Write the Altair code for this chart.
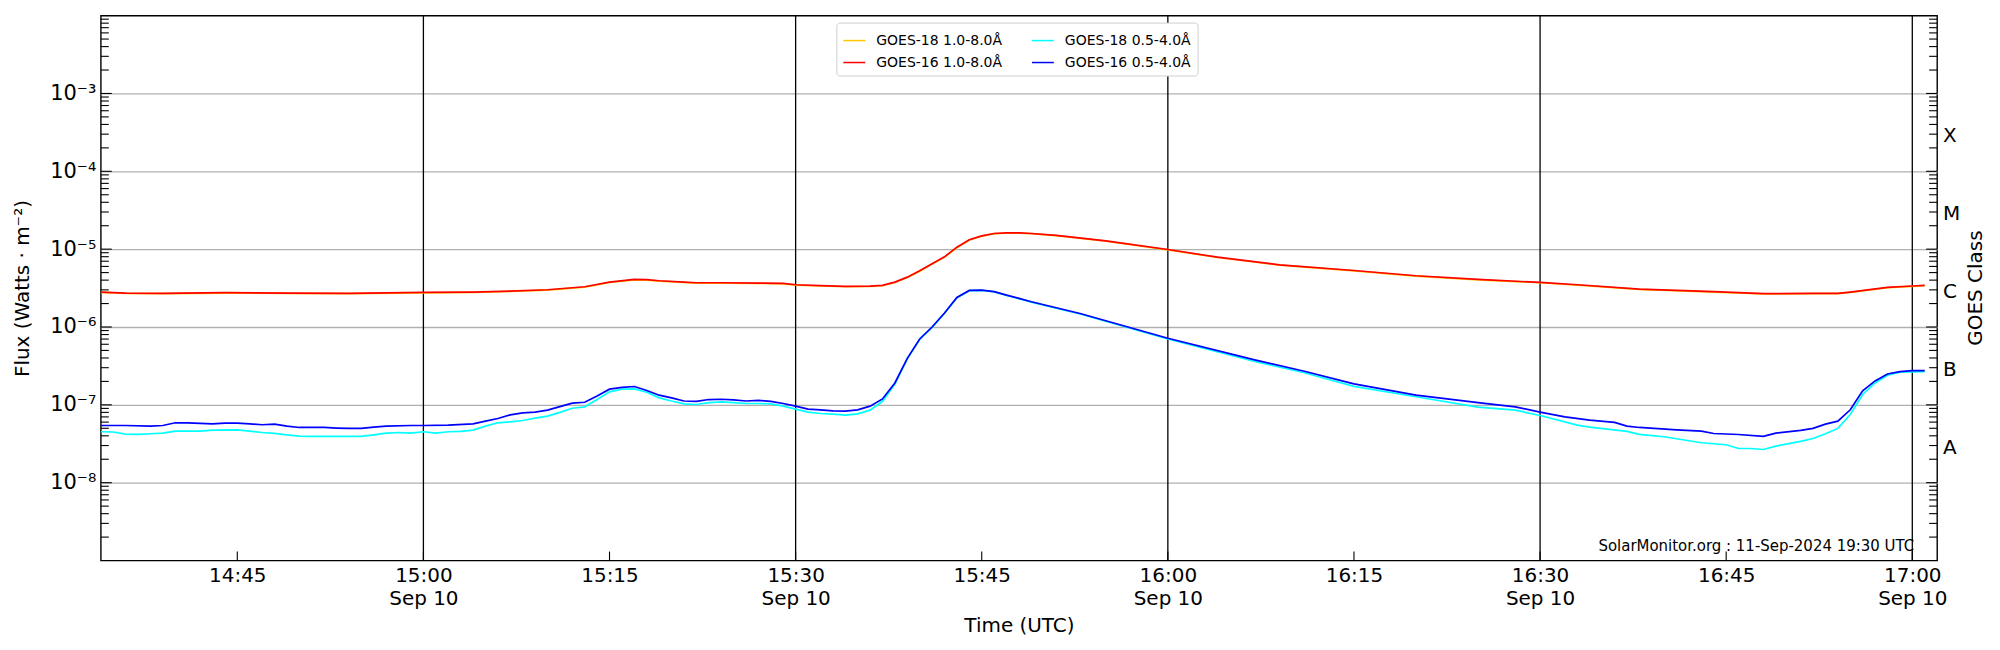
import altair as alt
import pandas as pd

DAY = "2024-09-10"
W, H = 1840, 546

# ---------------- data ----------------
g16_long_times = ["14:34", "14:36", "14:39", "14:44", "14:49", "14:54", "15:00", "15:04", "15:07", "15:10",
                  "15:11", "15:13", "15:15", "15:17", "15:18", "15:19", "15:21", "15:22", "15:24", "15:27",
                  "15:29", "15:30", "15:32", "15:34", "15:36", "15:37", "15:38", "15:39", "15:40", "15:41",
                  "15:42", "15:43", "15:44", "15:45", "15:46", "15:47", "15:48", "15:49", "15:51", "15:55",
                  "16:00", "16:04", "16:09", "16:15", "16:20", "16:25", "16:30", "16:33", "16:38", "16:44",
                  "16:48", "16:52", "16:54", "16:55", "16:58", "17:00", "17:01"]
g16_long_flux = [2.81e-6, 2.73e-6, 2.70e-6, 2.76e-6, 2.73e-6, 2.70e-6, 2.78e-6, 2.81e-6, 2.89e-6, 3.01e-6,
                 3.10e-6, 3.29e-6, 3.77e-6, 4.08e-6, 4.05e-6, 3.93e-6, 3.77e-6, 3.70e-6, 3.70e-6, 3.67e-6,
                 3.63e-6, 3.49e-6, 3.39e-6, 3.32e-6, 3.35e-6, 3.42e-6, 3.77e-6, 4.37e-6, 5.27e-6, 6.49e-6,
                 7.97e-6, 1.06e-5, 1.32e-5, 1.48e-5, 1.59e-5, 1.62e-5, 1.62e-5, 1.59e-5, 1.50e-5, 1.28e-5,
                 9.90e-6, 7.89e-6, 6.29e-6, 5.32e-6, 4.55e-6, 4.08e-6, 3.74e-6, 3.49e-6, 3.07e-6, 2.84e-6,
                 2.68e-6, 2.70e-6, 2.70e-6, 2.81e-6, 3.23e-6, 3.36e-6, 3.42e-6]

g18_long_times = g16_long_times
g18_long_flux = [2.78e-6, 2.70e-6, 2.68e-6, 2.73e-6, 2.71e-6, 2.68e-6, 2.75e-6, 2.78e-6, 2.86e-6, 2.98e-6,
                 3.07e-6, 3.26e-6, 3.73e-6, 4.04e-6, 4.01e-6, 3.89e-6, 3.73e-6, 3.66e-6, 3.66e-6, 3.63e-6,
                 3.59e-6, 3.46e-6, 3.36e-6, 3.29e-6, 3.32e-6, 3.39e-6, 3.73e-6, 4.33e-6, 5.22e-6, 6.43e-6,
                 7.90e-6, 1.05e-5, 1.31e-5, 1.47e-5, 1.58e-5, 1.61e-5, 1.61e-5, 1.58e-5, 1.49e-5, 1.27e-5,
                 9.80e-6, 7.81e-6, 6.23e-6, 5.27e-6, 4.51e-6, 4.04e-6, 3.70e-6, 3.46e-6, 3.04e-6, 2.81e-6,
                 2.66e-6, 2.68e-6, 2.68e-6, 2.78e-6, 3.20e-6, 3.33e-6, 3.39e-6]

g16_short_times = ["14:34", "14:36", "14:38", "14:39", "14:40", "14:41", "14:42", "14:43", "14:44", "14:45",
                   "14:46", "14:47", "14:48", "14:49", "14:50", "14:52", "14:53", "14:54", "14:55", "14:56",
                   "14:57", "14:59", "15:00", "15:02", "15:04", "15:05", "15:06", "15:07", "15:08", "15:09",
                   "15:10", "15:11", "15:12", "15:13", "15:14", "15:15", "15:16", "15:17", "15:18", "15:19",
                   "15:20", "15:21", "15:22", "15:23", "15:24", "15:25", "15:26", "15:27", "15:28", "15:29",
                   "15:30", "15:31", "15:32", "15:33", "15:34", "15:35", "15:36", "15:37", "15:38", "15:39",
                   "15:40", "15:41", "15:42", "15:43", "15:44", "15:45", "15:46", "15:47", "15:48", "15:49",
                   "15:53", "16:00", "16:07", "16:11", "16:15", "16:20", "16:25", "16:28", "16:30", "16:32",
                   "16:34", "16:36", "16:37", "16:38", "16:41", "16:43", "16:44", "16:46", "16:48", "16:49",
                   "16:51", "16:52", "16:53", "16:54", "16:55", "16:56", "16:57", "16:58", "16:59", "17:00",
                   "17:01"]
g16_short_flux = [5.43e-8, 5.43e-8, 5.33e-8, 5.43e-8, 5.88e-8, 5.88e-8, 5.77e-8, 5.70e-8, 5.82e-8, 5.82e-8,
                  5.70e-8, 5.55e-8, 5.65e-8, 5.33e-8, 5.12e-8, 5.12e-8, 5.03e-8, 4.98e-8, 4.98e-8, 5.17e-8,
                  5.33e-8, 5.43e-8, 5.43e-8, 5.48e-8, 5.70e-8, 6.18e-8, 6.68e-8, 7.44e-8, 7.89e-8, 8.05e-8,
                  8.55e-8, 9.50e-8, 1.05e-7, 1.08e-7, 1.30e-7, 1.59e-7, 1.68e-7, 1.72e-7, 1.53e-7, 1.33e-7,
                  1.23e-7, 1.12e-7, 1.11e-7, 1.17e-7, 1.18e-7, 1.16e-7, 1.12e-7, 1.14e-7, 1.11e-7, 1.04e-7,
                  9.61e-8, 8.80e-8, 8.63e-8, 8.38e-8, 8.30e-8, 8.63e-8, 9.61e-8, 1.19e-7, 1.91e-7, 3.96e-7,
                  7.01e-7, 1.00e-6, 1.51e-6, 2.40e-6, 2.95e-6, 2.98e-6, 2.84e-6, 2.57e-6, 2.33e-6, 2.11e-6,
                  1.48e-6, 7.16e-7, 3.78e-7, 2.70e-7, 1.86e-7, 1.33e-7, 1.07e-7, 9.42e-8, 8.05e-8, 7.01e-8,
                  6.36e-8, 5.94e-8, 5.32e-8, 5.12e-8, 4.78e-8, 4.59e-8, 4.28e-8, 4.16e-8, 3.93e-8, 4.34e-8,
                  4.69e-8, 4.98e-8, 5.65e-8, 6.18e-8, 8.63e-8, 1.51e-7, 2.03e-7, 2.49e-7, 2.67e-7, 2.75e-7,
                  2.75e-7]

g18_short_times = ["14:34", "14:35", "14:36", "14:37", "14:38", "14:39", "14:40", "14:42", "14:43", "14:45",
                   "14:46", "14:47", "14:48", "14:49", "14:50", "14:51", "14:55", "14:56", "14:57", "14:58",
                   "14:59", "15:00", "15:01", "15:02", "15:03", "15:04", "15:05", "15:06", "15:07", "15:08",
                   "15:09", "15:10", "15:11", "15:12", "15:13", "15:14", "15:15", "15:16", "15:17", "15:18",
                   "15:19", "15:20", "15:21", "15:22", "15:23", "15:24", "15:25", "15:26", "15:27", "15:28",
                   "15:29", "15:30", "15:31", "15:32", "15:33", "15:34", "15:35", "15:36", "15:37", "15:38",
                   "15:39", "15:40", "15:41", "15:42", "15:43", "15:44", "15:45", "15:46", "15:47", "15:48",
                   "15:49", "15:53", "16:00", "16:07", "16:11", "16:15", "16:20", "16:25", "16:28", "16:30",
                   "16:33", "16:34", "16:37", "16:38", "16:40", "16:43", "16:45", "16:46", "16:47", "16:48",
                   "16:49", "16:51", "16:52", "16:53", "16:54", "16:55", "16:56", "16:57", "16:58", "16:59",
                   "17:01"]
g18_short_flux = [4.51e-8, 4.48e-8, 4.21e-8, 4.17e-8, 4.25e-8, 4.34e-8, 4.60e-8, 4.60e-8, 4.73e-8, 4.78e-8,
                  4.60e-8, 4.41e-8, 4.29e-8, 4.12e-8, 3.96e-8, 3.93e-8, 3.93e-8, 4.12e-8, 4.34e-8, 4.41e-8,
                  4.34e-8, 4.51e-8, 4.34e-8, 4.51e-8, 4.55e-8, 4.73e-8, 5.33e-8, 5.88e-8, 6.05e-8, 6.29e-8,
                  6.75e-8, 7.16e-8, 8.00e-8, 9.05e-8, 9.43e-8, 1.17e-7, 1.47e-7, 1.59e-7, 1.60e-7, 1.45e-7,
                  1.23e-7, 1.12e-7, 1.03e-7, 1.01e-7, 1.07e-7, 1.09e-7, 1.07e-7, 1.04e-7, 1.04e-7, 1.03e-7,
                  9.61e-8, 8.80e-8, 8.05e-8, 7.74e-8, 7.59e-8, 7.37e-8, 7.67e-8, 8.55e-8, 1.11e-7, 1.85e-7,
                  3.90e-7, 6.95e-7, 9.90e-7, 1.50e-6, 2.38e-6, 2.93e-6, 2.96e-6, 2.82e-6, 2.55e-6, 2.31e-6,
                  2.09e-6, 1.46e-6, 7.02e-7, 3.60e-7, 2.58e-7, 1.73e-7, 1.27e-7, 9.33e-8, 8.55e-8, 7.30e-8,
                  5.49e-8, 5.18e-8, 4.55e-8, 4.17e-8, 3.89e-8, 3.26e-8, 3.07e-8, 2.75e-8, 2.75e-8, 2.67e-8,
                  2.95e-8, 3.39e-8, 3.70e-8, 4.25e-8, 4.98e-8, 7.52e-8, 1.36e-7, 1.91e-7, 2.40e-7, 2.62e-7,
                  2.67e-7]

# legend order (filled column by column): column 1 = 1.0-8.0, column 2 = 0.5-4.0
series_names = ["GOES-18 1.0-8.0Å", "GOES-16 1.0-8.0Å", "GOES-18 0.5-4.0Å", "GOES-16 0.5-4.0Å"]
series_colors = ["#FFC800", "#FF0000", "#00FFFF", "#0000FF"]

hour_lines = ["15:00", "15:30", "16:00", "16:30", "17:00"]
tick_times = ["14:45", "15:00", "15:15", "15:30", "15:45", "16:00", "16:15", "16:30", "16:45", "17:00"]
decades = [1e-8, 1e-7, 1e-6, 1e-5, 1e-4, 1e-3]
class_letters = ["A", "B", "C", "M", "X"]
class_lower = [1e-8, 1e-7, 1e-6, 1e-5, 1e-4]
x_range = ["14:34", "17:02"]
stamp = "SolarMonitor.org : 11-Sep-2024 19:30 UTC"


def iso(t):
    return f"{DAY}T{t}:00Z"


def frame(times, flux, name):
    return pd.DataFrame({"time": [iso(t) for t in times], "flux": flux, "series": name})


def dt(t):
    h, m = t.split(":")
    return alt.DateTime(year=2024, month=9, date=10, hours=int(h), minutes=int(m), utc=True)


xscale = alt.Scale(type="utc", domain=[dt(x_range[0]), dt(x_range[1])])
yscale = alt.Scale(type="log", domain=[1e-9, 1e-2])
cscale = alt.Scale(domain=series_names, range=series_colors)

FONT = "DejaVu Sans"

x_axis = alt.Axis(
    values=[dt(t) for t in tick_times],
    labelExpr="[utcFormat(datum.value, '%H:%M'), utcminutes(datum.value) % 30 == 0 ? utcFormat(datum.value, '%b %d') : '']",
    ticks=False, tickSize=0, domain=False, grid=False,
    labelFontSize=20, labelFont=FONT, labelColor="black", labelBaseline="top",
    labelPadding=5, labelLineHeight=23, labelFlush=False, labelOverlap=False,
    title="Time (UTC)", titleFontSize=20, titleFont=FONT, titleFontWeight="normal",
    titleColor="black", titleX=W / 2, titleY=71, titleBaseline="alphabetic", titleAlign="center",
)
y_axis = alt.Axis(
    values=decades,
    labelExpr="'10⁻' + ['⁰','¹','²','³','⁴','⁵','⁶','⁷','⁸','⁹'][-round(log(datum.value) / LN10)]",
    ticks=False, tickSize=0, domain=False, grid=True, gridColor="#b0b0b0", gridWidth=1.3,
    labelFontSize=21, labelFont=FONT, labelColor="black", labelPadding=5, labelBaseline="middle",
    labelOverlap=False, labelFlush=False,
    title="Flux (Watts · m⁻²)", titleFontSize=20, titleFont=FONT, titleFontWeight="normal",
    titleColor="black", titleAngle=270, titleX=-78, titleY=H / 2, titleAlign="center",
    titleBaseline="middle",
)


def X(field):
    return alt.X(field, scale=xscale, axis=x_axis)


def Y(field):
    return alt.Y(field, scale=yscale, axis=y_axis)


legend = alt.Legend(
    title=None, orient="none", legendX=737, legendY=7, columns=2,
    symbolType="stroke", symbolSize=480, symbolStrokeWidth=1.5,
    labelFont=FONT, labelFontSize=14, labelColor="black", labelOffset=10,
    columnPadding=26, rowPadding=3, padding=6,
    strokeColor="#d0d0d0", fillColor="white", cornerRadius=3,
)


def series_layer(times, flux, name):
    return alt.Chart(frame(times, flux, name)).mark_line(strokeWidth=1.7, clip=True).encode(
        x=X("time:T"), y=Y("flux:Q"),
        color=alt.Color("series:N", scale=cscale, legend=legend),
    )


hour_df = pd.DataFrame({"time": [iso(t) for t in hour_lines]})
hours = alt.Chart(hour_df).mark_rule(color="black", strokeWidth=1.3).encode(x=X("time:T"))

xt_df = pd.DataFrame({"time": [iso(t) for t in tick_times]})
xticks = alt.Chart(xt_df).mark_rule(color="black", strokeWidth=1.1).encode(
    x=X("time:T"), y=alt.value(H - 9), y2=alt.value(H)
)

minor_vals = [m * d for d in [1e-9] + decades + [1e-2] for m in range(2, 10) if m * d < 1e-2]
minor_df = pd.DataFrame({"flux": minor_vals})
major_df = pd.DataFrame({"flux": decades})


def yticks(df, x0, x1):
    return alt.Chart(df).mark_rule(color="black", strokeWidth=1.1).encode(
        y=Y("flux:Q"), x=alt.value(x0), x2=alt.value(x1)
    )


ticks = [yticks(minor_df, 0, 8), yticks(minor_df, W - 8, W),
         yticks(major_df, 0, 11), yticks(major_df, W - 11, W)]

cls_df = pd.DataFrame({"letter": class_letters, "lower": class_lower})
classes = alt.Chart(cls_df).transform_calculate(
    flux="datum.lower * sqrt(10)"
).mark_text(align="left", baseline="middle", dy=4, fontSize=20, font=FONT, color="black").encode(
    y=Y("flux:Q"), x=alt.value(W + 6), text="letter:N"
)

goes_title = alt.Chart(pd.DataFrame({"t": ["GOES Class"]})).mark_text(
    angle=270, align="center", baseline="middle", fontSize=20, font=FONT, color="black"
).encode(x=alt.value(W + 39), y=alt.value(H / 2), text="t:N")

stamp_text = alt.Chart(pd.DataFrame({"t": [stamp]})).mark_text(
    align="right", baseline="alphabetic", fontSize=15, font=FONT, color="black"
).encode(x=alt.value(W - 23), y=alt.value(H - 10), text="t:N")

lines = [
    series_layer(g18_long_times, g18_long_flux, "GOES-18 1.0-8.0Å"),
    series_layer(g16_long_times, g16_long_flux, "GOES-16 1.0-8.0Å"),
    series_layer(g18_short_times, g18_short_flux, "GOES-18 0.5-4.0Å"),
    series_layer(g16_short_times, g16_short_flux, "GOES-16 0.5-4.0Å"),
]

chart = alt.layer(
    hours, *ticks, xticks, *lines, classes, goes_title, stamp_text
).properties(
    width=W, height=H,
    autosize=alt.AutoSizeParams(type="none"),
    padding={"left": 93, "top": 7, "right": 55, "bottom": 80},
).configure(
    font=FONT,
    view=alt.ViewConfig(stroke="black", strokeWidth=1.4),
)

chart.save("out.html", embed_options={"renderer": "svg", "actions": False})
